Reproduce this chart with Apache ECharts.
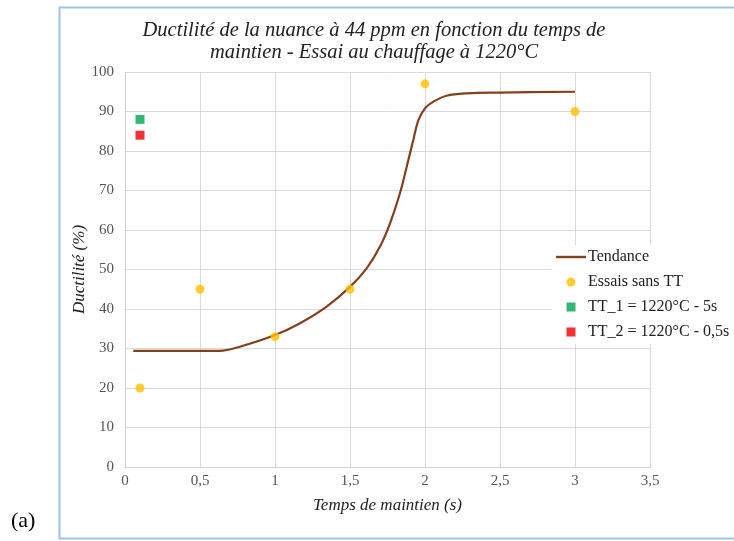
<!DOCTYPE html>
<html>
<head>
<meta charset="utf-8">
<script src="https://cdn.jsdelivr.net/npm/echarts@6/dist/echarts.min.js"></script>
<style>
html,body{margin:0;padding:0;background:#fff;}
#chart{width:734px;height:541px;}
</style>
</head>
<body>
<div id="chart"></div>
<script>
// ---- Data ----
var titleText = "Ductilité de la nuance à 44 ppm en fonction du temps de\nmaintien - Essai au chauffage à 1220°C";
var xAxisName = "Temps de maintien (s)";
var yAxisName = "Ductilité (%)";
var seriesNames = ["Tendance", "Essais sans TT", "TT_1 = 1220°C - 5s", "TT_2 = 1220°C - 0,5s"];

var trendX = [0.055, 0.63, 0.77, 1.0, 1.167, 1.344, 1.5, 1.611, 1.7, 1.767, 1.833, 1.878, 1.922, 1.956, 2.0, 2.056, 2.144, 2.278, 2.5, 3.0];
var trendY = [29.4, 29.4, 30.5, 33.4, 36.4, 40.6, 45.6, 50.3, 55.8, 61.7, 69.3, 76.0, 82.8, 87.8, 90.8, 92.5, 94.0, 94.6, 94.8, 95.0];

var essaisX = [0.1, 0.5, 1.0, 1.5, 2.0, 3.0];
var essaisY = [20, 45, 33, 45, 97, 90];

var tt1X = [0.1];
var tt1Y = [88];
var tt2X = [0.1];
var tt2Y = [84];

function pairs(xs, ys) { return xs.map(function (x, i) { return [x, ys[i]]; }); }

var serif = "'Liberation Serif', 'DejaVu Serif', serif";
var lineIcon = 'path://M0,0L30,0L30,2.4L0,2.4Z';
var squareIcon = 'path://M0,0L10,0L10,10L0,10Z';

var chart = echarts.init(document.getElementById('chart'));
chart.setOption({
  backgroundColor: '#ffffff',
  animation: false,
  graphic: [
    {
      type: 'rect',
      shape: { x: 59.5, y: 7.5, width: 700, height: 531 },
      style: { fill: 'none', stroke: '#9dc3e6', lineWidth: 2 },
      z: -1
    },
    {
      type: 'text',
      left: 11,
      top: 510,
      style: { text: '(a)', font: "22px " + serif, fill: '#000' }
    }
  ],
  title: {
    text: titleText,
    left: 369,
    textAlign: 'center',
    top: 15,
    textStyle: {
      fontFamily: serif,
      fontStyle: 'italic',
      fontWeight: 'normal',
      fontSize: 20.5,
      lineHeight: 22,
      color: '#222'
    }
  },
  grid: { left: 125, right: 84, top: 72, bottom: 74, containLabel: false },
  xAxis: {
    type: 'value',
    min: 0, max: 3.5, interval: 0.5,
    name: xAxisName,
    nameLocation: 'middle',
    nameGap: 30,
    nameMoveOverlap: false,
    nameTextStyle: { fontFamily: serif, fontStyle: 'italic', fontSize: 17, color: '#222' },
    axisLine: { show: true, lineStyle: { color: '#d0d0d0', width: 1 } },
    axisTick: { show: false },
    axisLabel: {
      fontFamily: serif, fontSize: 15, color: '#555', margin: 7,
      formatter: function (v) { return String(v).replace('.', ','); }
    },
    splitLine: { show: true, lineStyle: { color: '#d9d9d9', width: 1 } }
  },
  yAxis: {
    type: 'value',
    min: 0, max: 100, interval: 10,
    name: yAxisName,
    nameLocation: 'middle',
    nameGap: 37,
    nameMoveOverlap: false,
    nameTextStyle: { fontFamily: serif, fontStyle: 'italic', fontSize: 17, color: '#222' },
    axisLine: { show: true, lineStyle: { color: '#d0d0d0', width: 1 } },
    axisTick: { show: false },
    axisLabel: { fontFamily: serif, fontSize: 15, color: '#555', margin: 11 },
    splitLine: { show: true, lineStyle: { color: '#d9d9d9', width: 1 } }
  },
  legend: {
    orient: 'vertical',
    left: 552,
    top: 245,
    padding: [4, 6, 4, 4],
    backgroundColor: '#ffffff',
    itemWidth: 30,
    itemHeight: 9,
    itemGap: 9,
    symbolKeepAspect: true,
    textStyle: { fontFamily: serif, fontSize: 16, color: '#222', padding: [0, 0, 0, -3] },
    data: [
      { name: seriesNames[0], icon: lineIcon, itemStyle: { color: '#84401a' } },
      { name: seriesNames[1], icon: 'circle' },
      { name: seriesNames[2], icon: squareIcon },
      { name: seriesNames[3], icon: squareIcon }
    ]
  },
  series: [
    {
      name: seriesNames[0],
      type: 'line',
      data: pairs(trendX, trendY),
      smooth: 0.35,
      symbol: 'none',
      lineStyle: { color: '#84401a', width: 2.2 },
      itemStyle: { color: '#84401a' },
      z: 3
    },
    {
      name: seriesNames[1],
      type: 'scatter',
      data: pairs(essaisX, essaisY),
      symbol: 'circle',
      symbolSize: 9,
      itemStyle: { color: '#ffc000' },
      z: 4
    },
    {
      name: seriesNames[2],
      type: 'scatter',
      data: pairs(tt1X, tt1Y),
      symbol: 'rect',
      symbolSize: 9,
      itemStyle: { color: '#00a550' },
      z: 4
    },
    {
      name: seriesNames[3],
      type: 'scatter',
      data: pairs(tt2X, tt2Y),
      symbol: 'rect',
      symbolSize: 9,
      itemStyle: { color: '#ee0000' },
      z: 4
    }
  ]
});
</script>
</body>
</html>
